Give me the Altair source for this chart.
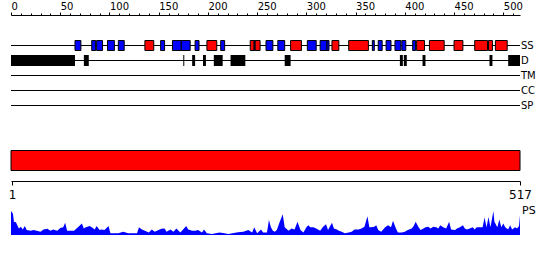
import altair as alt
import pandas as pd

LENGTH = 517
tracks = ["SS", "D", "TM", "CC", "SP"]

# secondary structure elements (E = strand, blue; H = helix, red)
ss_start = [65, 82, 87, 98, 109, 136, 152, 164, 173, 187, 199, 213, 243, 247, 248, 259, 271, 284,
            301, 314, 321, 326, 343, 367, 373, 381, 390, 397, 408, 412, 425, 450, 471, 485, 492]
ss_end = [71, 86, 93, 105, 115, 145, 156, 173, 182, 191, 209, 217, 247, 248, 253, 266, 278, 295,
          310, 321, 323, 333, 363, 369, 377, 386, 396, 401, 411, 420, 440, 459, 484, 489, 504]
ss_type = ["E", "E", "E", "E", "E", "H", "E", "E", "E", "E", "H", "E", "H", "E", "H", "E", "E", "H",
           "E", "E", "E", "H", "H", "E", "E", "E", "E", "E", "E", "H", "H", "H", "H", "H", "H"]

# disordered regions
d_start = [0, 74, 175, 184, 195, 206, 223, 278, 395, 399, 418, 486, 505]
d_end = [65, 79, 176, 187, 198, 215, 238, 284, 398, 402, 421, 489, 517]

# domain bar
dom_start = [0]
dom_end = [517]

# PS profile
ps_pos = [0, 2, 3, 5, 8, 10, 12, 14, 16, 20, 23, 26, 30, 33, 37, 40, 43, 47, 50, 53, 55, 57, 60, 64,
          68, 72, 74, 76, 80, 82, 85, 87, 90, 92, 95, 99, 101, 104, 109, 114, 119, 124, 128, 130,
          133, 136, 140, 143, 146, 151, 153, 156, 158, 162, 165, 168, 172, 178, 180, 184, 187, 190,
          194, 196, 199, 204, 212, 221, 229, 233, 236, 241, 245, 247, 250, 254, 256, 260, 262, 264,
          266, 268, 270, 273, 276, 278, 282, 285, 288, 291, 294, 297, 300, 302, 304, 307, 310, 314,
          317, 320, 322, 326, 328, 331, 333, 336, 339, 343, 346, 349, 353, 356, 359, 362, 364, 366,
          369, 371, 373, 376, 380, 383, 386, 388, 391, 393, 397, 400, 403, 407, 409, 411, 414, 416,
          419, 421, 424, 426, 429, 432, 434, 436, 439, 442, 445, 447, 451, 453, 456, 459, 461, 463,
          466, 469, 471, 473, 476, 479, 481, 483, 485, 487, 490, 491, 494, 496, 498, 500, 502, 505,
          507, 509, 512, 514, 516, 517]
ps_val = [1.00, 0.89, 0.55, 0.53, 0.27, 0.34, 0.23, 0.37, 0.21, 0.18, 0.21, 0.18, 0.14, 0.23, 0.26,
          0.18, 0.23, 0.18, 0.29, 0.32, 0.51, 0.18, 0.18, 0.18, 0.32, 0.48, 0.27, 0.32, 0.37, 0.32,
          0.23, 0.37, 0.21, 0.23, 0.21, 0.37, 0.07, 0.07, 0.07, 0.14, 0.07, 0.07, 0.07, 0.32, 0.23,
          0.18, 0.10, 0.23, 0.14, 0.23, 0.26, 0.27, 0.14, 0.23, 0.14, 0.27, 0.10, 0.37, 0.23, 0.18,
          0.18, 0.21, 0.10, 0.23, 0.07, 0.04, 0.10, 0.04, 0.10, 0.12, 0.14, 0.21, 0.10, 0.32, 0.07,
          0.23, 0.10, 0.10, 0.62, 0.32, 0.18, 0.14, 0.21, 0.55, 0.86, 0.32, 0.18, 0.27, 0.23, 0.55,
          0.21, 0.10, 0.32, 0.41, 0.32, 0.32, 0.27, 0.18, 0.34, 0.45, 0.21, 0.51, 0.27, 0.23, 0.18,
          0.14, 0.07, 0.10, 0.14, 0.23, 0.23, 0.27, 0.34, 0.78, 0.32, 0.32, 0.34, 0.41, 0.21, 0.14,
          0.32, 0.41, 0.32, 0.59, 0.27, 0.10, 0.10, 0.14, 0.21, 0.27, 0.37, 0.55, 0.32, 0.21, 0.27,
          0.32, 0.34, 0.27, 0.34, 0.32, 0.27, 0.41, 0.32, 0.27, 0.55, 0.23, 0.21, 0.27, 0.32, 0.41,
          0.27, 0.23, 0.27, 0.32, 0.23, 0.32, 0.32, 0.32, 0.73, 0.32, 0.75, 0.32, 1.00, 0.55, 0.32,
          0.65, 0.32, 0.48, 0.32, 0.23, 0.41, 0.23, 0.32, 0.27, 0.37, 0.82]

track_df = pd.DataFrame({"track": tracks, "start": [0] * len(tracks), "end": [LENGTH] * len(tracks)})
ss_df = pd.DataFrame({"track": "SS", "start": ss_start, "end": ss_end, "type": ss_type})
d_df = pd.DataFrame({"track": "D", "start": d_start, "end": d_end})
dom_df = pd.DataFrame({"name": ["domain"], "start": dom_start, "end": dom_end})
ps_df = pd.DataFrame({"pos": ps_pos, "ps": ps_val})
ps_lab = pd.DataFrame({"pos": [LENGTH], "ps": [1.0], "label": ["PS"]})

FONT = "DejaVu Sans"
X = alt.Scale(domain=[0, LENGTH], nice=False, zero=False)
TY = alt.Scale(type="point", domain=tracks, range=[30.5, 90.5], padding=0)

top_axis = alt.Axis(
    orient="top", values=list(range(0, 511, 10)), format="d",
    labelExpr="datum.value % 50 === 0 ? datum.label : ''",
    tickSize={"condition": {"test": "datum.value % 50 === 0", "value": 3}, "value": 2},
    labelAlign="left", labelFontSize=10, labelPadding=1, labelFlush=False, labelOverlap=False,
    labelFont=FONT, domainColor="black", tickColor="black", labelColor="black", grid=False, title=None,
)
bottom_axis = alt.Axis(
    orient="bottom", offset=-54, values=[1, LENGTH], format="d", tickSize=4,
    labelFontSize=12, labelPadding=4, labelFlush=False, labelOverlap=False,
    labelFont=FONT, domainColor="black", tickColor="black", labelColor="black", grid=False, title=None,
)

lines = alt.Chart(track_df).mark_rule(color="black", strokeWidth=1).encode(
    x=alt.X("start:Q", scale=X, axis=top_axis),
    x2="end:Q",
    y=alt.Y("track:N", scale=TY, axis=None),
)

ss = alt.Chart(ss_df).mark_bar(size=10, stroke="black", strokeWidth=1).encode(
    x=alt.X("start:Q", scale=X, axis=None),
    x2="end:Q",
    y=alt.Y("track:N", scale=TY, axis=None),
    color=alt.Color("type:N", scale=alt.Scale(domain=["E", "H"], range=["#0000ff", "#ff0000"]), legend=None),
)

dis = alt.Chart(d_df).mark_bar(size=11, color="black").encode(
    x=alt.X("start:Q", scale=X, axis=None),
    x2="end:Q",
    y=alt.Y("track:N", scale=TY, axis=None),
)

labels = alt.Chart(track_df).mark_text(align="left", baseline="middle", dx=1, fontSize=10,
                                       font=FONT, color="black").encode(
    x=alt.X("end:Q", scale=X, axis=None),
    y=alt.Y("track:N", scale=TY, axis=None),
    text="track:N",
)

dom = alt.Chart(dom_df).mark_rect(color="#ff0000", stroke="black", strokeWidth=1).encode(
    x=alt.X("start:Q", scale=X, axis=bottom_axis),
    x2="end:Q",
    y=alt.Y("name:N", scale=alt.Scale(type="band", domain=["domain"], range=[135.5, 155.5],
                                       paddingInner=0, paddingOuter=0), axis=None),
)

PSY = alt.Scale(domain=[0, 1], range=[220, 196], nice=False, zero=True)
ps = alt.Chart(ps_df).mark_area(color="#0000ff", interpolate="linear", opacity=1).encode(
    x=alt.X("pos:Q", scale=X, axis=None),
    y=alt.Y("ps:Q", scale=PSY, axis=None),
)
ps_text = alt.Chart(ps_lab).mark_text(align="left", baseline="middle", dx=2, fontSize=11,
                                      font=FONT, color="black").encode(
    x=alt.X("pos:Q", scale=X, axis=None),
    y=alt.Y("ps:Q", scale=PSY, axis=None),
    text="label:N",
)

chart = alt.layer(lines, ss, dis, labels, dom, ps, ps_text).resolve_scale(
    y="independent", color="independent"
).resolve_axis(x="independent").properties(
    width=509, height=220,
    autosize=alt.AutoSizeParams(type="none"),
    padding={"left": 11, "top": 15, "right": 30, "bottom": 25},
    background="white",
).configure_view(stroke=None)

chart.save("out.html", embed_options={"renderer": "svg", "actions": False})
